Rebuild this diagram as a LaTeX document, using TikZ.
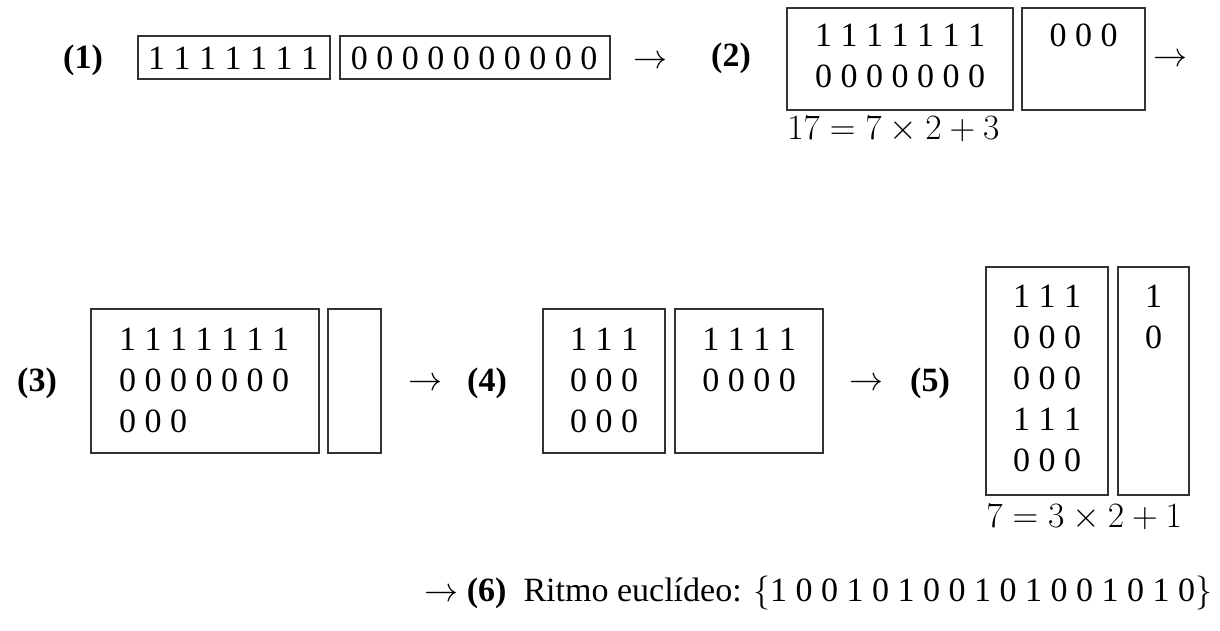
\RequirePackage{fix-cm}
\documentclass[tikz,border=0pt]{standalone}
\usepackage[no-math]{fontspec}
\setmainfont{Liberation Serif}
\tikzset{
  bx/.style={draw=black!80, line width=0.6pt, inner sep=0pt},
  txt/.style={inner sep=0pt, anchor=base, font=\fontsize{17}{20.5}\selectfont},
  lbl/.style={txt, font=\fontsize{17}{20.5}\selectfont\bfseries},
  eqn/.style={inner sep=0pt, anchor=base west, font=\fontsize{17.8}{21}\selectfont},
}
\newcommand\pxbox[5]{\node[bx, minimum width={(#4-#2)*0.5pt}, minimum height={(#5-#3)*0.5pt}] (#1) at ({(#2+#4)/2},{(#3+#5)/2}) {};}
\newcommand\cellrows[2]{\begin{tabular}[t]{@{}#1@{}}#2\end{tabular}}
\begin{document}
\begin{tikzpicture}[x=0.5pt,y=-0.5pt]
\useasboundingbox (0,0) rectangle (1220,631);
% row 1
\node[lbl] (l1) at (83,69) {(1)};
\pxbox{A}{138}{36}{330}{79}
\pxbox{B}{340}{36}{610}{79}
\node[txt] (tA) at (233,70) {1 1 1 1 1 1 1};
\node[txt] (tB) at (474,70) {0 0 0 0 0 0 0 0 0 0};
\node[txt] (a1) at (650,69) {$\to$};
\node[lbl] (l2) at (731,67) {(2)};
\pxbox{C}{787}{8}{1013}{110}
\pxbox{D}{1022}{8}{1145}{110}
\node[txt] (tC) at (900,47) {\cellrows{c}{1 1 1 1 1 1 1\\0 0 0 0 0 0 0}};
\node[txt] (tD) at (1083.5,47) {0 0 0};
\node[txt] (a2) at (1170,67) {$\to$};
\node[eqn] (e1) at (787,140) {$17=7\times2+3$};
% row 2
\node[lbl] (l3) at (37,391) {(3)};
\pxbox{E}{91}{309}{319}{453}
\pxbox{F}{328}{309}{381}{453}
\node[txt] (tE) at (204,350) {\cellrows{l}{1 1 1 1 1 1 1\\0 0 0 0 0 0 0\\0 0 0}};
\node[txt] (a3) at (425,390) {$\to$};
\node[lbl] (l4) at (487,391) {(4)};
\pxbox{G}{543}{309}{665}{453}
\pxbox{H}{675}{309}{823}{453}
\node[txt] (tG) at (604,350) {\cellrows{c}{1 1 1\\0 0 0\\0 0 0}};
\node[txt] (tH) at (749,350) {\cellrows{c}{1 1 1 1\\0 0 0 0}};
\node[txt] (a4) at (866,390) {$\to$};
\node[lbl] (l5) at (930,391) {(5)};
\pxbox{I}{986}{267}{1108}{495}
\pxbox{J}{1118}{267}{1189}{495}
\node[txt] (tI) at (1047,307) {\cellrows{c}{1 1 1\\0 0 0\\0 0 0\\1 1 1\\0 0 0}};
\node[txt] (tJ) at (1153.5,307) {\cellrows{c}{1\\0}};
\node[eqn] (e2) at (986,527) {$7=3\times2+1$};
% row 3
\node[txt, anchor=base west] (r6) at (424,601) {$\to$ \textbf{(6)}\enspace Ritmo euclídeo: $\{$1 0 0 1 0 1 0 0 1 0 1 0 0 1 0 1 0$\}$};
\end{tikzpicture}
\end{document}
